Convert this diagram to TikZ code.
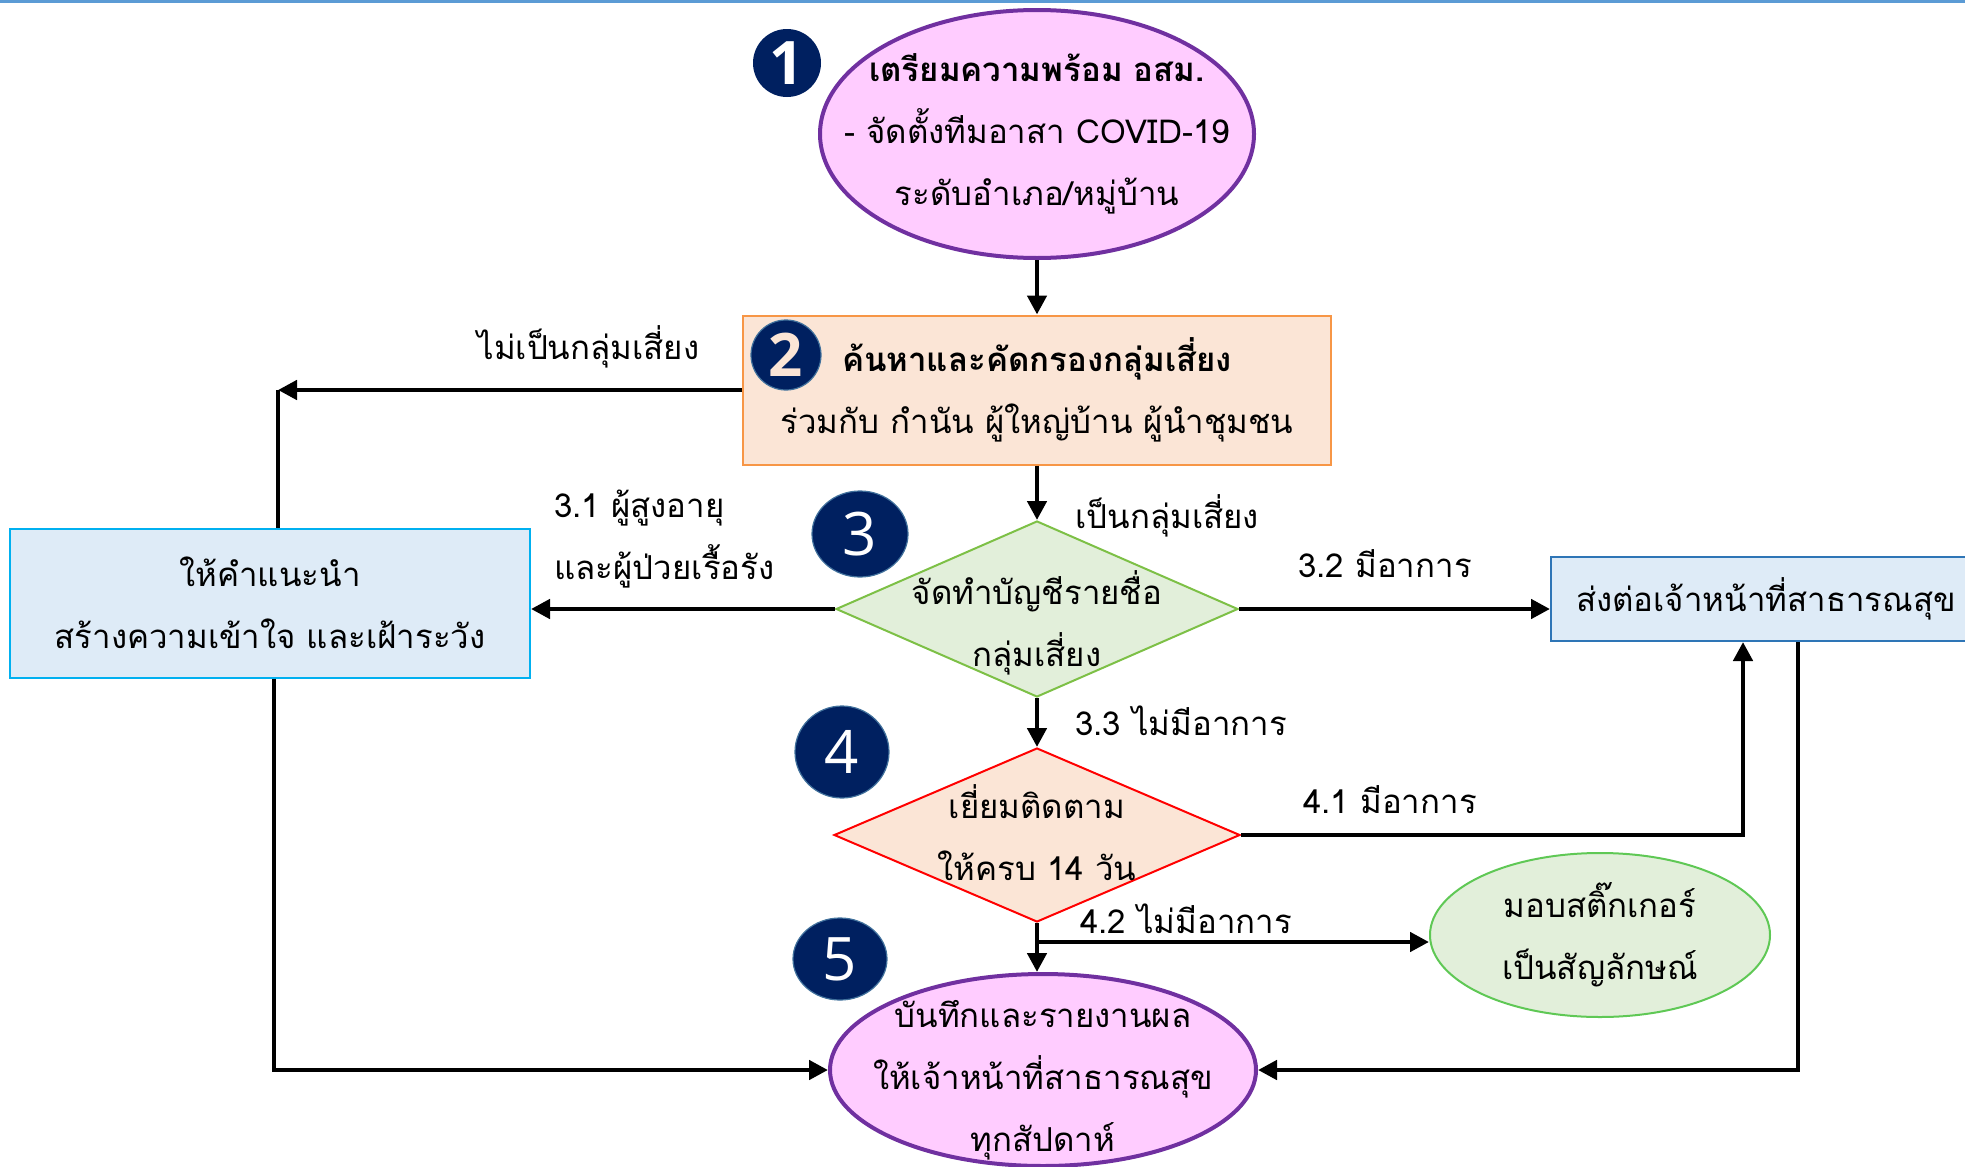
\documentclass[tikz,border=0pt]{standalone}
\usepackage{fontspec}
\setmainfont[Script=Thai]{Loma}
\newfontfamily\numfont{Open Sans}
\usetikzlibrary{shapes.geometric,arrows.meta}

\definecolor{navy}{RGB}{0,32,96}
\definecolor{ring}{RGB}{65,113,156}
\definecolor{lilac}{RGB}{255,204,255}
\definecolor{grape}{RGB}{112,48,160}
\definecolor{peach}{RGB}{251,229,214}
\definecolor{tangerine}{RGB}{247,150,70}
\definecolor{icy}{RGB}{222,235,247}
\definecolor{cyanline}{RGB}{0,176,240}
\definecolor{steel}{RGB}{46,117,182}
\definecolor{mint}{RGB}{226,239,218}
\definecolor{leaf}{RGB}{125,192,70}
\definecolor{lime}{RGB}{95,200,85}
\definecolor{sky}{RGB}{91,155,213}

\begin{document}
\begin{tikzpicture}
	[x=0.5pt,y=-0.5pt,>={Triangle[length=9.5pt,width=9.5pt]},
		font=\fontsize{16.5}{31}\selectfont,
		link/.style={->,line width=2.3pt},
		txt/.style={align=center,inner sep=0pt,font=\fontsize{16.5}{31}\selectfont},
		lbl/.style={align=left,inner sep=0pt,anchor=west},
		bubble/.style={ellipse,draw=grape,fill=lilac,line width=2pt,inner sep=0pt},
		stepbox/.style={rectangle,align=center,inner sep=0pt,line width=1pt},
		decision/.style={diamond,inner sep=0pt,line width=1pt},
		badge/.style={ellipse,fill=navy,draw=ring,line width=0.6pt,inner sep=0pt,text=white,font=\numfont\fontsize{30}{30}\selectfont}]

	\useasboundingbox (0,0) rectangle (1965,1167);
	\draw[sky,line width=1.6pt] (0,1.5) -- (1965,1.5);

	% steps
	\node[bubble,minimum width=217pt,minimum height=124pt,
		label={[txt]center:{\textbf{เตรียมความพร้อม อสม.}\\- จัดตั้งทีมอาสา COVID-19\\ระดับอำเภอ/หมู่บ้าน}}] (prep) at (1037,134) {};
	\node[stepbox,draw=tangerine,fill=peach,minimum width=294pt,minimum height=74.5pt] (screen) at (1037,390)
		{\textbf{ค้นหาและคัดกรองกลุ่มเสี่ยง}\\ร่วมกับ กำนัน ผู้ใหญ่บ้าน ผู้นำชุมชน};
	\node[stepbox,draw=cyanline,fill=icy,minimum width=260pt,minimum height=74.5pt] (advise) at (270,603)
		{ให้คำแนะนำ\\สร้างความเข้าใจ และเฝ้าระวัง};
	\node[decision,draw=leaf,fill=mint,minimum width=201pt,minimum height=88pt,
		label={[txt,yshift=-7pt]center:{จัดทำบัญชีรายชื่อ\\กลุ่มเสี่ยง}}] (listd) at (1037,609) {};
	\node[stepbox,draw=steel,fill=icy,minimum width=215pt,minimum height=42pt] (refer) at (1766,599)
		{ส่งต่อเจ้าหน้าที่สาธารณสุข};
	\node[decision,draw=red,fill=peach,minimum width=203pt,minimum height=87pt,
		label={[txt,yshift=1pt]center:{เยี่ยมติดตาม\\ให้ครบ 14 วัน}}] (visit) at (1037,835) {};
	\node[ellipse,draw=lime,fill=mint,line width=1pt,inner sep=0pt,minimum width=170pt,minimum height=82pt,
		label={[txt]center:{มอบสติ๊กเกอร์\\เป็นสัญลักษณ์}}] (sticker) at (1600,935) {};
	\node[bubble,minimum width=213pt,minimum height=96pt,
		label={[txt,yshift=-5pt]center:{บันทึกและรายงานผล\\ให้เจ้าหน้าที่สาธารณสุข\\ทุกสัปดาห์}}] (report) at (1043,1070) {};

	% numbers
	\node[badge,draw=none,minimum width=34pt,minimum height=34pt] (n1) at (787,63) {\bfseries 1};
	\node[badge,minimum width=35pt,minimum height=35pt,text=peach] (n2) at (786,355) {\bfseries 2};
	\node[badge,minimum width=48pt,minimum height=43pt] (n3) at (860,534) {3};
	\node[badge,minimum width=47pt,minimum height=46pt] (n4) at (842,752) {4};
	\node[badge,minimum width=47pt,minimum height=41pt] (n5) at (840,959) {5};

	% labels
	\node[lbl] (notrisk) at (477,347) {ไม่เป็นกลุ่มเสี่ยง};
	\node[lbl] (isrisk) at (1075,516) {เป็นกลุ่มเสี่ยง};
	\node[lbl] (l31) at (554,539) {3.1 ผู้สูงอายุ\\และผู้ป่วยเรื้อรัง};
	\node[lbl] (l32) at (1298,564) {3.2 มีอาการ};
	\node[lbl] (l33) at (1075,721) {3.3 ไม่มีอาการ};
	\node[lbl] (l41) at (1303,800) {4.1 มีอาการ};
	\node[lbl] (l42) at (1080,919) {4.2 ไม่มีอาการ};

	\coordinate (turn) at ([xshift=4pt]advise.north |- screen.west);
	\coordinate (fork) at ([yshift=-9.5pt]visit.south);

	\path[link]
	(prep) edge (screen)
	(screen.south) edge (listd.north)
	(screen.west) edge (turn)
	(listd.west) edge (listd.west -| advise.east)
	(listd.east) edge (listd.east -| refer.west)
	(listd.south) edge (visit.north)
	(visit.south) edge (visit.south |- report.north)
	(fork) edge (fork -| sticker.west);

	\draw[line width=2.3pt] ([xshift=4pt]advise.north) -- (turn);
	\draw[link] (visit.east) -| ([xshift=-11.5pt]refer.south);
	\draw[link] ([xshift=16pt]refer.south) |- (report.east);
	\draw[link] ([xshift=2pt]advise.south) |- (report.west);

\end{tikzpicture}
\end{document}
